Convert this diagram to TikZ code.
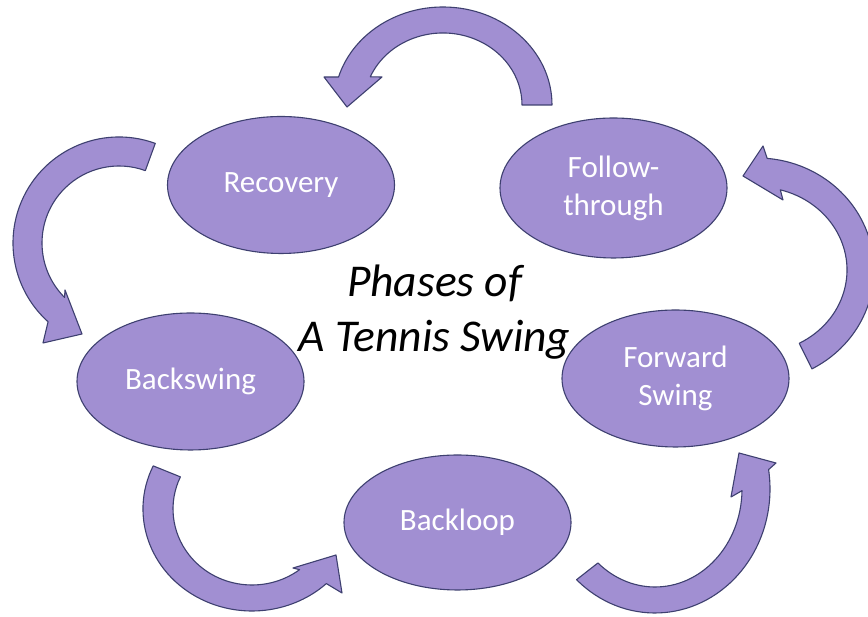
\documentclass[tikz,border=0pt]{standalone}
\usepackage{fontspec}
\setmainfont{Carlito}
\usetikzlibrary{shapes.geometric}
\definecolor{lav}{RGB}{161,143,210}
\definecolor{edge}{RGB}{62,64,112}
\tikzset{
  phase/.style={ellipse, fill=lav, draw=edge, line width=1.1pt, minimum width=227pt, minimum height=137pt, inner sep=0pt, align=center, text=white, font=\fontsize{31}{38}\selectfont},
  band/.style={fill=lav, draw=edge, line width=1.1pt, line join=round}
}
\begin{document}
\begin{tikzpicture}[x=1pt,y=1pt]
\useasboundingbox (0,0) rectangle (868,617);
\clip (0,0) rectangle (868,617);
\fill[white] (0,0) rectangle (868,617);
% ellipses
\node[phase] (recovery) at (281,432) {Recovery};
\node[phase, minimum height=140pt] (follow) at (613.5,429) {Follow-\\through};
\node[phase] (backswing) at (190.5,235.5) {Backswing};
\node[phase] (forward) at (675.5,238.5) {Forward\\Swing};
\node[phase, minimum height=135pt] (backloop) at (457.5,94.5) {Backloop};
% title
\node[font=\fontsize{45.5}{55}\selectfont\itshape, align=center] (title) at (434.5,305) {Phases of\\A Tennis Swing};
% top arrow: follow-through -> recovery
\draw[band] ({443+109*cos(0)},{512+98*sin(0)}) arc[start angle=0,end angle=163.4,x radius=109pt,y radius=98pt]
  -- (324,540) -- (347,510) -- (382,540)
  -- ({443+79*cos(157)},{512+72*sin(157)}) arc[start angle=157,end angle=0,x radius=79pt,y radius=72pt] -- cycle;
% left arrow: recovery -> backswing
\draw[band] ({119+106*cos(70)},{374+106*sin(70)}) arc[start angle=70,end angle=228,radius=106pt]
  -- (43,274) -- (82,283) -- (65,327)
  -- ({119+77*cos(225)},{374+77*sin(225)}) arc[start angle=225,end angle=70,radius=77pt] -- cycle;
% bottom-left arrow: backswing -> backloop
\draw[band] ({252+109*cos(155)},{108+102*sin(155)}) arc[start angle=155,end angle=313,x radius=109pt,y radius=102pt]
  -- (342,24) -- (336,62) -- (293,49)
  -- ({252+79*cos(307)},{108+76*sin(307)}) arc[start angle=307,end angle=155,x radius=79pt,y radius=76pt] -- cycle;
% bottom-right arrow: backloop -> forward swing
\draw[band] ({655+115*cos(227)},{128+124*sin(227)}) arc[start angle=227,end angle=369,x radius=115pt,y radius=124pt]
  -- (776,154) -- (739,164) -- (731,120)
  -- ({655+87*cos(359)},{128+98*sin(359)}) arc[start angle=359,end angle=229,x radius=87pt,y radius=98pt] -- cycle;
% right arrow: forward swing -> follow-through
\draw[band] ({757+117*cos(-62)},{347+112*sin(-62)}) arc[start angle=-62,end angle=85,x radius=117pt,y radius=112pt]
  -- (763,471) -- (743,441) -- (783,417)
  -- ({757+90*cos(75)},{347+83*sin(75)}) arc[start angle=75,end angle=-62,x radius=90pt,y radius=83pt] -- cycle;
\end{tikzpicture}
\end{document}
